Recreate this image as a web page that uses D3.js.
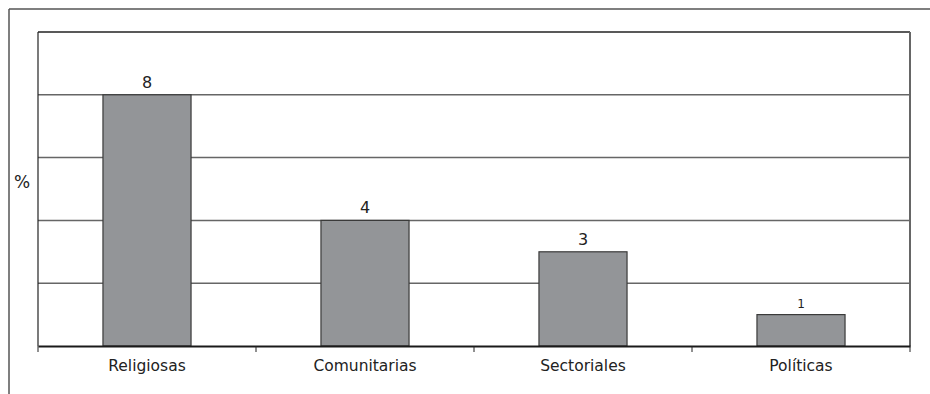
<!DOCTYPE html>
<html>
<head>
<meta charset="utf-8">
<script src="https://cdn.jsdelivr.net/npm/d3@7"></script>
<style>
  html, body { margin: 0; padding: 0; background: #fff; }
  svg { display: block; }
  text { font-family: "DejaVu Sans", sans-serif; fill: #222; }
</style>
</head>
<body>
<svg id="chart" width="930" height="394"></svg>
<script>
const categories = ["Religiosas", "Comunitarias", "Sectoriales", "Políticas"];
const values = [8, 4, 3, 1];
const yTicks = [0, 2, 4, 6, 8, 10];
const yLabel = "%";

const W = 930, H = 394;
const margin = { left: 38, top: 32, right: 20, bottom: 48 };
const svg = d3.select("#chart");

// outer frame (only left and top visible)
svg.append("line").attr("x1", 9).attr("y1", 9).attr("x2", W).attr("y2", 9)
  .attr("stroke", "#555").attr("stroke-width", 1.5);
svg.append("line").attr("x1", 9).attr("y1", 9).attr("x2", 9).attr("y2", H)
  .attr("stroke", "#555").attr("stroke-width", 1.5);

const x = d3.scaleBand().domain(categories).range([margin.left, W - margin.right]).padding(0);
const y = d3.scaleLinear().domain([0, 10]).range([H - margin.bottom, margin.top]);

// gridlines
svg.append("g").selectAll("line").data(yTicks.filter(t => t > 0)).join("line")
  .attr("x1", margin.left).attr("x2", W - margin.right)
  .attr("y1", d => y(d)).attr("y2", d => y(d))
  .attr("stroke", d => d === 10 ? "#222" : "#666")
  .attr("stroke-width", 1.5);

// plot area left and right borders
svg.append("line").attr("x1", margin.left).attr("x2", margin.left)
  .attr("y1", y(10)).attr("y2", y(0)).attr("stroke", "#222").attr("stroke-width", 1.2);
svg.append("line").attr("x1", W - margin.right).attr("x2", W - margin.right)
  .attr("y1", y(10)).attr("y2", y(0)).attr("stroke", "#666").attr("stroke-width", 2);

// bars
const bw = x.bandwidth() * 0.404;
svg.append("g").selectAll("rect").data(values).join("rect")
  .attr("x", (d, i) => x(categories[i]) + x.bandwidth() / 2 - bw / 2)
  .attr("width", bw)
  .attr("y", d => y(d))
  .attr("height", d => y(0) - y(d))
  .attr("fill", "#939598")
  .attr("stroke", "#3a3a3a")
  .attr("stroke-width", 1.2);

// value labels
svg.append("g").selectAll("text").data(values).join("text")
  .attr("x", (d, i) => x(categories[i]) + x.bandwidth() / 2)
  .attr("y", d => y(d) - 7)
  .attr("text-anchor", "middle")
  .attr("font-size", d => d === 1 ? 12 : 16)
  .style("fill", "#222")
  .text(d => d);

// x axis
const xAxis = d3.axisBottom(x).tickSize(0).tickFormat(d => d);
const gx = svg.append("g").attr("transform", `translate(0,${y(0)})`).call(xAxis);
gx.select(".domain").attr("stroke", "#1a1a1a").attr("stroke-width", 2.2);
gx.selectAll(".tick text").attr("dy", 0).attr("y", 25)
  .style("font-size", "15.5px")
  .style("font-family", "'DejaVu Sans', sans-serif").style("fill", "#222");
// boundary ticks
const bounds = categories.map(c => x(c)).concat([x.range()[1]]);
svg.append("g").selectAll("line").data(bounds).join("line")
  .attr("x1", d => d).attr("x2", d => d)
  .attr("y1", y(0)).attr("y2", y(0) + 6)
  .attr("stroke", "#222").attr("stroke-width", 1);

// y label
svg.append("text").attr("x", 22).attr("y", 188).attr("text-anchor", "middle")
  .attr("font-size", 17).text(yLabel);
</script>
</body>
</html>
